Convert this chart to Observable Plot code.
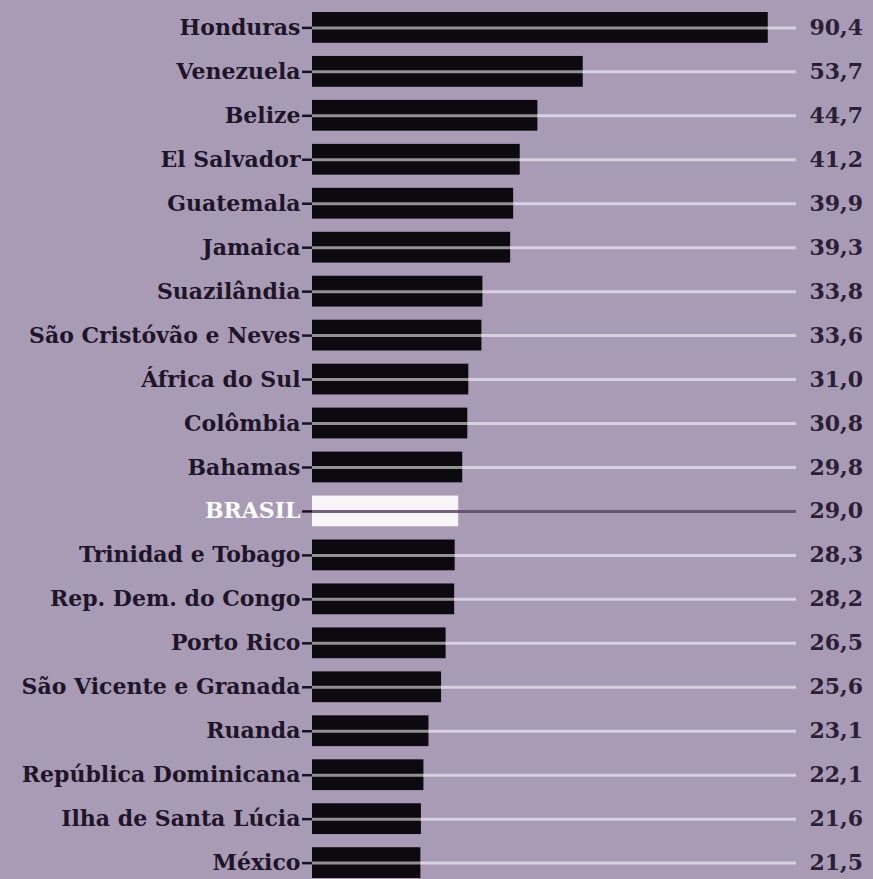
<!DOCTYPE html>
<html>
<head>
<meta charset="utf-8">
<script src="https://cdn.jsdelivr.net/npm/d3@7"></script>
<script src="https://cdn.jsdelivr.net/npm/@observablehq/plot@0.6"></script>
<style>
  html, body { margin: 0; padding: 0; background: #a99bb6; }
  #chart svg { display: block; }
</style>
</head>
<body>
<div id="chart"></div>
<script>
const countries = ["Honduras", "Venezuela", "Belize", "El Salvador", "Guatemala", "Jamaica", "Suazilândia", "São Cristóvão e Neves", "África do Sul", "Colômbia", "Bahamas", "BRASIL", "Trinidad e Tobago", "Rep. Dem. do Congo", "Porto Rico", "São Vicente e Granada", "Ruanda", "República Dominicana", "Ilha de Santa Lúcia", "México"];
const values = [90.4, 53.7, 44.7, 41.2, 39.9, 39.3, 33.8, 33.6, 31.0, 30.8, 29.8, 29.0, 28.3, 28.2, 26.5, 25.6, 23.1, 22.1, 21.6, 21.5];
const highlight = "BRASIL";
const lineEnd = 96;

const data = countries.map((c, i) => ({country: c, value: values[i], hi: c === highlight}));
const fmt = v => v.toFixed(1).replace(".", ",");
const serif = "'DejaVu Serif', 'Liberation Serif', serif";

const chart = Plot.plot({
  width: 873,
  height: 879,
  marginTop: 12,
  marginBottom: 1,
  marginLeft: 312,
  marginRight: 77,
  style: {background: "#a99bb6", fontFamily: serif},
  x: {domain: [0, lineEnd], axis: null},
  y: {domain: countries, padding: 0.3, paddingOuter: 0, round: false, axis: null},
  marks: [
    Plot.barX(data, {x: "value", y: "country", fill: d => d.hi ? "#f7f5f8" : "#0c090f"}),
    Plot.ruleY(data.filter(d => !d.hi), {y: "country", x1: 0, x2: lineEnd, stroke: "#ffffff", strokeOpacity: 0.55, strokeWidth: 3}),
    Plot.ruleY(data.filter(d => d.hi), {y: "country", x1: 0, x2: lineEnd, stroke: "#5a4868", strokeOpacity: 0.85, strokeWidth: 3}),
    Plot.axisY({tickSize: 10, tickFormat: () => "", stroke: "#1a1220", strokeWidth: 2.5, label: null}),
    Plot.text(data, {x: 0, y: "country", text: "country", dx: -12, textAnchor: "end", fontSize: 22, fontWeight: "bold", fontFamily: serif, fill: d => d.hi ? "#ffffff" : "#1e1528"}),
    Plot.text(data, {x: lineEnd, y: "country", text: d => fmt(d.value), dx: 13, textAnchor: "start", fontSize: 22, fontWeight: "bold", fontFamily: serif, fill: "#2a2035"})
  ]
});
document.getElementById("chart").append(chart);
</script>
</body>
</html>
